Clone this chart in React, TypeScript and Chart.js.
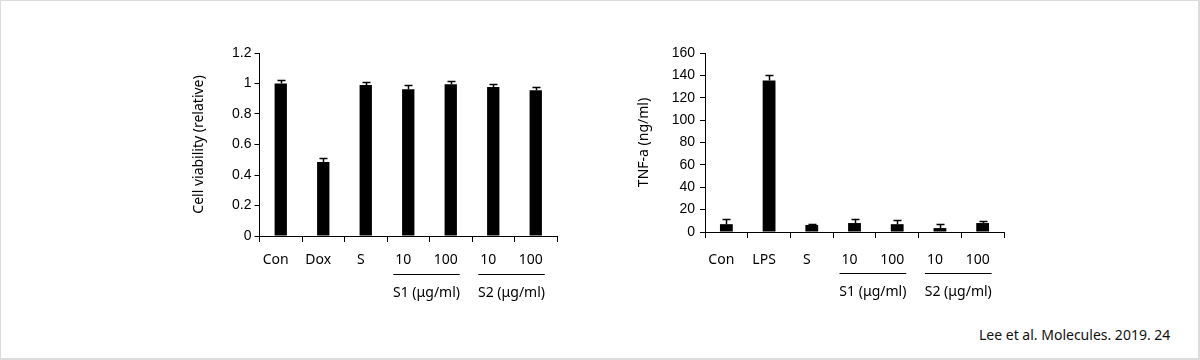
import React, { useEffect, useRef } from "react";
import { Chart, registerables } from "chart.js";

Chart.register(...registerables);

const categories1 = ["Con", "Dox", "S", "10", "100", "10", "100"];
const viability = [1.0, 0.485, 0.99, 0.962, 0.995, 0.977, 0.955];
const viabilityErr = [0.02, 0.025, 0.022, 0.025, 0.022, 0.018, 0.02];
const yTicks1 = [0, 0.2, 0.4, 0.6, 0.8, 1, 1.2];

const categories2 = ["Con", "LPS", "S", "10", "100", "10", "100"];
const tnf = [7.0, 135.5, 6.3, 8.0, 7.0, 3.5, 8.0];
const tnfErr = [4.3, 4.5, 0.7, 3.3, 3.4, 3.3, 1.6];
const yTicks2 = [0, 20, 40, 60, 80, 100, 120, 140, 160];

const groups = [
  { label: "S1 (μg/ml)", from: 3, to: 4 },
  { label: "S2 (μg/ml)", from: 5, to: 6 },
];

const SANS = "'Noto Sans', 'Open Sans', sans-serif";
const ARIAL = "'Liberation Sans', Arial, sans-serif";

function errorBarPlugin(errs: number[]) {
  return {
    id: "errbars",
    afterDatasetsDraw(chart: any) {
      const meta = chart.getDatasetMeta(0);
      const ys = chart.scales.y;
      const vals = chart.data.datasets[0].data as number[];
      const ctx = chart.ctx;
      ctx.save();
      ctx.strokeStyle = "#000";
      ctx.lineWidth = 1.5;
      meta.data.forEach((bar: any, i: number) => {
        const x = Math.round(bar.x) + 0.5;
        const yb = ys.getPixelForValue(vals[i]);
        const yt = Math.round(ys.getPixelForValue(vals[i] + errs[i])) + 0.5;
        ctx.beginPath();
        ctx.moveTo(x, yb);
        ctx.lineTo(x, yt);
        ctx.moveTo(x - 4, yt);
        ctx.lineTo(x + 4, yt);
        ctx.stroke();
      });
      ctx.restore();
    },
  };
}

function groupPlugin(lineOff: number, textOff: number) {
  return {
    id: "groups",
    afterDraw(chart: any) {
      const xs = chart.scales.x;
      const ctx = chart.ctx;
      const base = chart.chartArea.bottom;
      ctx.save();
      ctx.strokeStyle = "#000";
      ctx.lineWidth = 1;
      ctx.fillStyle = "#000";
      ctx.font = `14px ${SANS}`;
      ctx.textAlign = "center";
      ctx.textBaseline = "middle";
      groups.forEach((g) => {
        const x1 = xs.getPixelForValue(g.from) - 15;
        const x2 = xs.getPixelForValue(g.to) + 9;
        const ly = Math.round(base + lineOff) + 0.5;
        ctx.beginPath();
        ctx.moveTo(x1, ly);
        ctx.lineTo(x2, ly);
        ctx.stroke();
        ctx.fillText(g.label, (x1 + x2) / 2, base + textOff);
      });
      ctx.restore();
    },
  };
}

type Cfg = {
  labels: string[];
  values: number[];
  errs: number[];
  ticks: number[];
  max: number;
  title: string;
  pad: { left: number; top: number; right: number; bottom: number };
  yWidth: number;
  tickPad: number;
  xPad: number;
  barPct: number;
  lineOff: number;
  textOff: number;
};

function BarPanel({ cfg, style }: { cfg: Cfg; style: React.CSSProperties }) {
  const ref = useRef<HTMLCanvasElement | null>(null);
  useEffect(() => {
    if (!ref.current) return;
    const chart = new Chart(ref.current, {
      type: "bar",
      data: {
        labels: cfg.labels,
        datasets: [
          {
            data: cfg.values,
            backgroundColor: "#000",
            borderWidth: 0,
            categoryPercentage: 1,
            barPercentage: cfg.barPct,
          },
        ],
      },
      options: {
        animation: false,
        responsive: false,
        maintainAspectRatio: false,
        layout: { padding: cfg.pad },
        plugins: {
          legend: { display: false },
          tooltip: { enabled: false },
        },
        scales: {
          x: {
            type: "category",
            offset: true,
            grid: {
              offset: true,
              drawOnChartArea: false,
              drawTicks: true,
              tickLength: 6,
              color: "#000",
              lineWidth: 1,
            },
            border: { display: true, color: "#000", width: 1 },
            ticks: {
              color: "#000",
              font: { family: SANS, size: 14 },
              padding: cfg.xPad,
              labelOffset: -5,
              maxRotation: 0,
              autoSkip: false,
            },
            afterFit: (s: any) => {
              s.height = 40;
            },
          },
          y: {
            min: 0,
            max: cfg.max,
            afterBuildTicks: (s: any) => {
              s.ticks = cfg.ticks.map((v) => ({ value: v }));
            },
            grid: {
              drawOnChartArea: false,
              drawTicks: true,
              tickLength: 5,
              color: "#000",
            },
            border: { display: true, color: "#000", width: 1 },
            ticks: {
              color: "#000",
              font: { family: ARIAL, size: 14 },
              padding: cfg.tickPad,
              callback: (v: any) => String(v),
            },
            title: {
              display: true,
              text: cfg.title,
              color: "#000",
              font: { family: SANS, size: 14 },
              padding: 0,
            },
            afterFit: (s: any) => {
              s.width = cfg.yWidth;
            },
          },
        },
      },
      plugins: [errorBarPlugin(cfg.errs), groupPlugin(cfg.lineOff, cfg.textOff)],
    });
    return () => chart.destroy();
  }, []);
  return <canvas ref={ref} width={410} height={290} style={{ position: "absolute", ...style }} />;
}

const cfg1: Cfg = {
  labels: categories1,
  values: viability,
  errs: viabilityErr,
  ticks: yTicks1,
  max: 1.2,
  title: "Cell viability (relative)",
  pad: { left: 20, top: 22, right: 24, bottom: 45 },
  yWidth: 68.5,
  tickPad: 3,
  xPad: 10,
  barPct: 0.29,
  lineOff: 38,
  textOff: 57,
};

const cfg2: Cfg = {
  labels: categories2,
  values: tnf,
  errs: tnfErr,
  ticks: yTicks2,
  max: 160,
  title: "TNF-a (ng/ml)",
  pad: { left: 15, top: 22, right: 27, bottom: 49 },
  yWidth: 69,
  tickPad: 5,
  xPad: 14,
  barPct: 0.3,
  lineOff: 40.5,
  textOff: 60,
};

export default function App() {
  return (
    <div
      style={{
        position: "fixed",
        left: 0,
        top: 0,
        width: 1200,
        height: 360,
        background: "#fff",
        boxSizing: "border-box",
        border: "1px solid #dcdcdc",
        borderRightWidth: 2,
        borderBottomWidth: 2,
      }}
    >
      <BarPanel cfg={cfg1} style={{ left: 170, top: 30 }} />
      <BarPanel cfg={cfg2} style={{ left: 620, top: 30 }} />
      <div
        style={{
          position: "absolute",
          left: 978,
          top: 324,
          fontFamily: SANS,
          fontSize: 14,
          color: "#111",
          whiteSpace: "nowrap",
        }}
      >
        Lee et al. Molecules. 2019. 24
      </div>
    </div>
  );
}
